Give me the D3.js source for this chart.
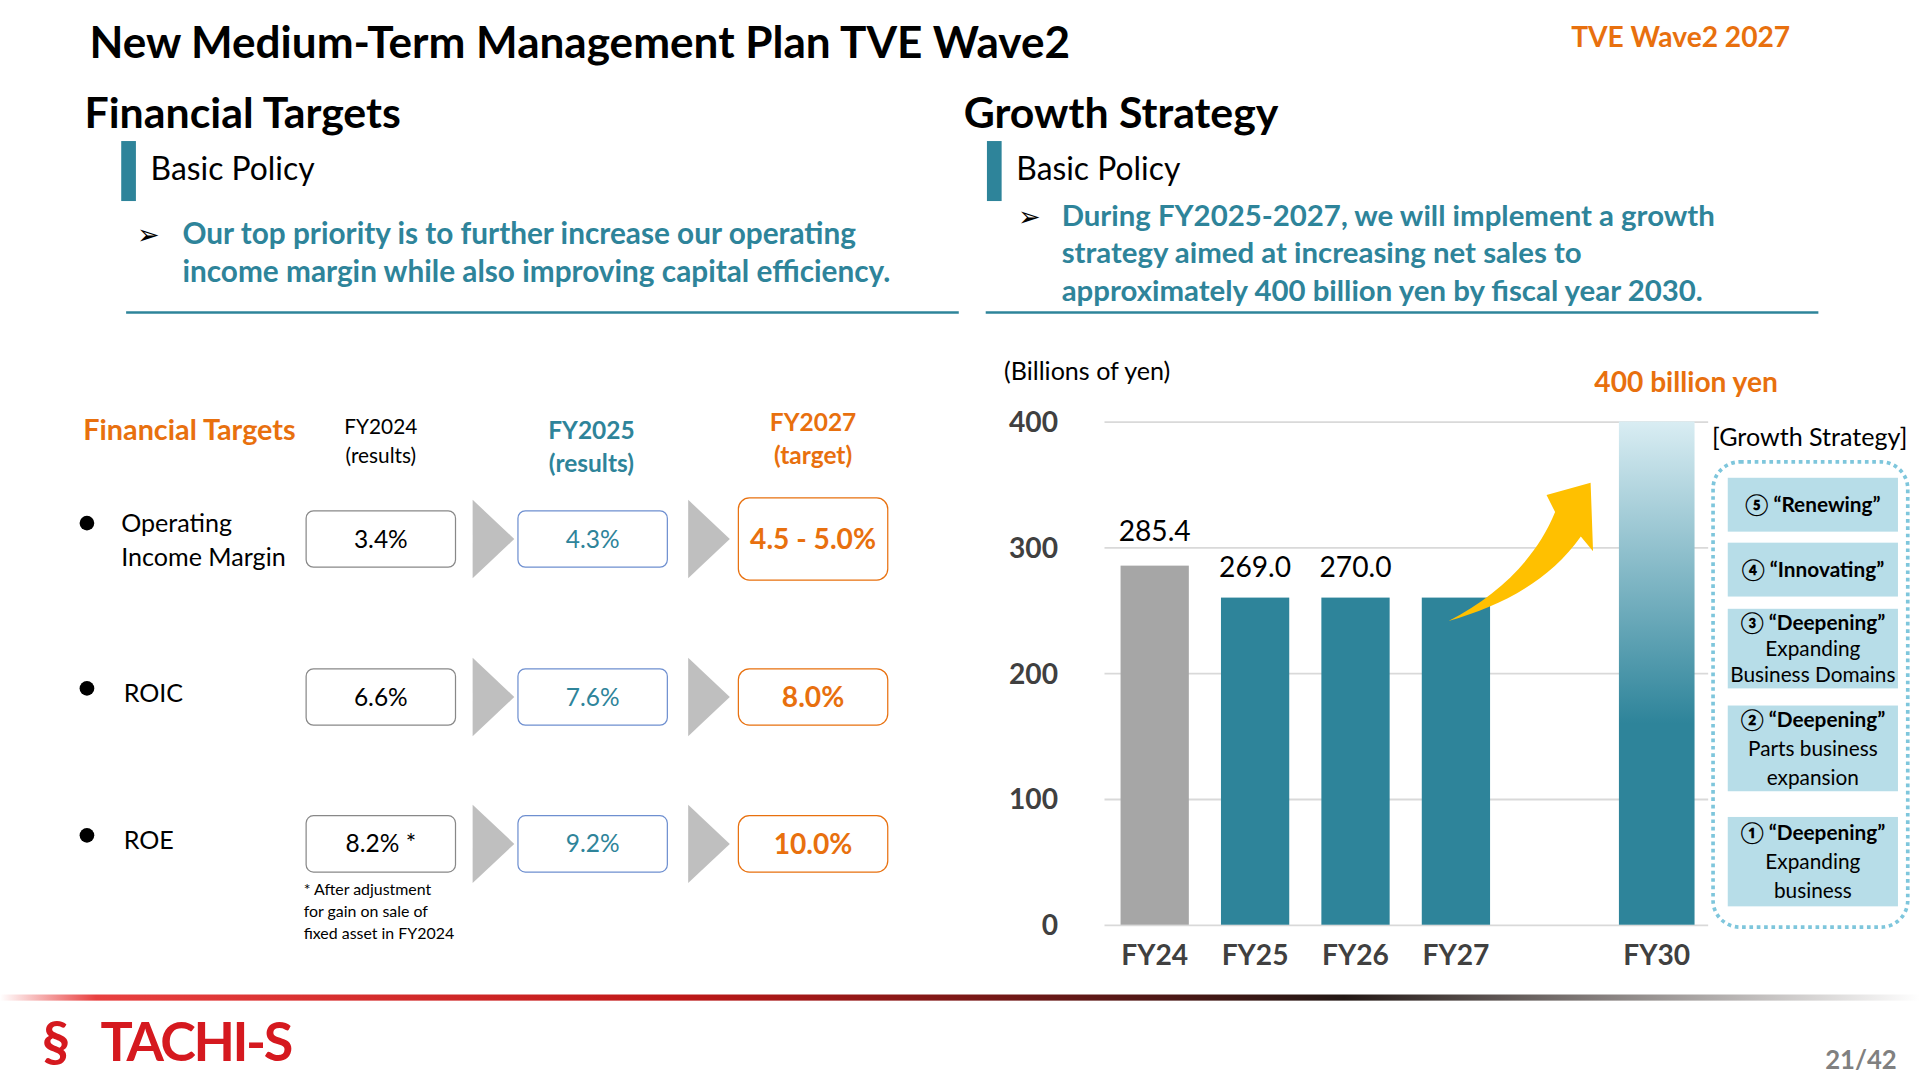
<!DOCTYPE html>
<html><head><meta charset="utf-8">
<script src="https://cdn.jsdelivr.net/npm/d3@7"></script>
<style>body{margin:0;background:#fff}svg{display:block}</style>
</head><body>
<script>
const categories = ["FY24","FY25","FY26","FY27","gap","FY30"];
const barValues = [285.4,260,260,260,null,400];
const valueLabels = ["285.4","269.0","270.0","",null,""];
const yTicks = [0,100,200,300,400];
const strategyItems = [
  ["⑤ “Renewing”"],["④ “Innovating”"],
  ["③ “Deepening”","Expanding","Business Domains"],
  ["② “Deepening”","Parts business","expansion"],
  ["① “Deepening”","Expanding","business"]];
const targetRows = ["Operating\nIncome Margin","ROIC","ROE"];
const fy2024 = ["3.4%","6.6%","8.2% *"];
const fy2025 = ["4.3%","7.6%","9.2%"];
const fy2027 = ["4.5 - 5.0%","8.0%","10.0%"];

const F="Lato, 'Open Sans', sans-serif";
const TEAL="#2e849a", ORANGE="#e8700e";
const svg=d3.select("body").append("svg").attr("width",1920).attr("height",1078)
  .attr("viewBox","0 0 1568 880").style("font-family",F);
const defs=svg.append("defs");
function T(x,y,t,o={}){const e=svg.append("text").attr("x",x).attr("y",y).text(t)
  .attr("font-size",o.s||20).attr("font-weight",o.w||"normal").attr("fill",o.c||"#000")
  .attr("text-anchor",o.a||"start");return e;}

T(73,47,"New Medium-Term Management Plan TVE Wave2",{s:36,w:"bold"});
T(1462,38,"TVE Wave2 2027",{s:23,w:"bold",c:ORANGE,a:"end"});
T(69,104,"Financial Targets",{s:35,w:"bold"});
T(787,104,"Growth Strategy",{s:35,w:"bold"});
[[99],[806]].forEach(([x])=>{svg.append("rect").attr("x",x).attr("y",115).attr("width",12).attr("height",49).attr("fill",TEAL);
  T(x+24,147,"Basic Policy",{s:26});});
T(112,199,"➢",{s:22});T(149,199,"Our top priority is to further increase our operating",{s:24.3,w:"bold",c:TEAL});
T(149,230,"income margin while also improving capital efficiency.",{s:24.3,w:"bold",c:TEAL});
T(831,184,"➢",{s:22});
["During FY2025-2027, we will implement a growth","strategy aimed at increasing net sales to","approximately 400 billion yen by fiscal year 2030."]
 .forEach((l,i)=>T(867,184+31*i,l,{s:24,w:"bold",c:TEAL}));
svg.append("line").attr("x1",103).attr("x2",783).attr("y1",255).attr("y2",255).attr("stroke",TEAL).attr("stroke-width",2);
svg.append("line").attr("x1",805).attr("x2",1485).attr("y1",255).attr("y2",255).attr("stroke",TEAL).attr("stroke-width",2);

// Left table
T(68,359,"Financial Targets",{s:23.5,w:"bold",c:ORANGE});
T(311,354,"FY2024",{s:17,a:"middle"});T(311,378,"(results)",{s:17,a:"middle"});
T(483,358,"FY2025",{s:20,w:"bold",c:TEAL,a:"middle"});T(483,385,"(results)",{s:20,w:"bold",c:TEAL,a:"middle"});
T(664,352,"FY2027",{s:20,w:"bold",c:ORANGE,a:"middle"});T(664,379,"(target)",{s:20,w:"bold",c:ORANGE,a:"middle"});
const rowY=[440,569,689];
targetRows.forEach((r,i)=>{
  svg.append("circle").attr("cx",71).attr("cy",rowY[i]-13+(i?6:0)).attr("r",6);
  const ls=r.split("\n");ls.forEach((l,j)=>T(ls.length>1?99:101,rowY[i]-6+28*j+(ls.length>1?0:10),l,{s:20.5}));
  const h=46;
  svg.append("rect").attr("x",250).attr("y",rowY[i]-23).attr("width",122).attr("height",h).attr("rx",6).attr("fill","#fff").attr("stroke","#888");
  T(311,rowY[i]+7,fy2024[i],{s:20,a:"middle"});
  svg.append("rect").attr("x",423).attr("y",rowY[i]-23).attr("width",122).attr("height",h).attr("rx",6).attr("fill","#fff").attr("stroke","#6e8fd0");
  T(484,rowY[i]+7,fy2025[i],{s:20,a:"middle",c:TEAL});
  const hh=i===0?67:h;
  svg.append("rect").attr("x",603).attr("y",rowY[i]-hh/2).attr("width",122).attr("height",hh).attr("rx",9).attr("fill","#fff").attr("stroke",ORANGE);
  T(664,rowY[i]+8,fy2027[i],{s:23,w:"bold",c:ORANGE,a:"middle"});
  [386,562].forEach(x=>svg.append("path").attr("d",`M${x},${rowY[i]-32}L${x+34},${rowY[i]}L${x},${rowY[i]+32}Z`).attr("fill","#bfbfbf"));
});
["* After adjustment","for gain on sale of","fixed asset in FY2024"].forEach((l,i)=>T(248,731+18*i,l,{s:13}));

// Chart
const x=d3.scaleBand().domain(categories).range([902,1394]).paddingInner(0.32).paddingOuter(0.16);
const y=d3.scaleLinear().domain([0,400]).range([755,344]);
T(820,310,"(Billions of yen)",{s:20.5});
const ax=svg.append("g").attr("transform","translate(902,0)")
  .call(d3.axisLeft(y).tickValues(yTicks).tickSize(-493).tickPadding(38));
ax.select(".domain").remove();
ax.selectAll("line").attr("stroke","#d9d9d9").attr("stroke-width",1.5);
ax.selectAll("text").attr("font-size",23).attr("font-weight","bold").attr("fill","#404040").attr("font-family",F).attr("dy","0.35em");
const gr=defs.append("linearGradient").attr("id","g30").attr("x1",0).attr("x2",0).attr("y1",0).attr("y2",1);
gr.append("stop").attr("offset",0).attr("stop-color","#d9edf3");
gr.append("stop").attr("offset",0.6).attr("stop-color","#2e849a");
gr.append("stop").attr("offset",1).attr("stop-color","#2e849a");
categories.forEach((c,i)=>{ if(barValues[i]==null) return;
  const w=c==="FY30"?x.bandwidth()+6:x.bandwidth();
  const xx=x(c)-(w-x.bandwidth())/2;
  svg.append("rect").attr("x",xx).attr("y",y(barValues[i])).attr("width",w).attr("height",y(0)-y(barValues[i]))
   .attr("fill",i===0?"#a6a6a6":c==="FY30"?"url(#g30)":TEAL);
  T(x(c)+x.bandwidth()/2,788,c,{s:23,w:"bold",c:"#404040",a:"middle"});
  if(valueLabels[i]) T(x(c)+x.bandwidth()/2,(i===0?y(barValues[i])-20:y(barValues[i])-17),valueLabels[i],{s:23,a:"middle"});
});
T(1377,320,"400 billion yen",{s:23,w:"bold",c:ORANGE,a:"middle"});
svg.append("path").attr("d","M1183,507 C1225,485 1255,455 1270,418 L1263,404 L1299,394 L1301,450 L1291,438 C1265,475 1225,495 1183,507Z").attr("fill","#ffc000");

T(1478,364,"[Growth Strategy]",{s:20.5,a:"middle"});
svg.append("rect").attr("x",1399).attr("y",377).attr("width",159).attr("height",380).attr("rx",22).attr("fill","none")
 .attr("stroke","#7ec6dc").attr("stroke-width",3).attr("stroke-dasharray","3,3");
const boxes=[[390,44],[443,44],[497,65],[576,70],[667,73]];
strategyItems.forEach((ls,i)=>{const [by,bh]=boxes[i];
  svg.append("rect").attr("x",1411).attr("y",by).attr("width",139).attr("height",bh).attr("fill","#b7dde8");
  const n=ls.length, lh=n===3?(bh>=70?23.5:21.5):0, mid=by+bh/2;
  ls.forEach((l,j)=>T(1480.5,mid+(j-(n-1)/2)*lh+6,l,{s:17,w:j===0?"bold":"normal",a:"middle"}));
});

// footer
const fg=defs.append("linearGradient").attr("id","fg");
[[0,"#fff"],[0.05,"#e84040"],[0.35,"#c01818"],[0.7,"#231815"],[1,"#fff"]].forEach(([o,c])=>fg.append("stop").attr("offset",o).attr("stop-color",c));
svg.append("rect").attr("x",0).attr("y",812).attr("width",1568).attr("height",5).attr("fill","url(#fg)");
T(34,866,"§",{s:46,w:"bold",c:"#d5191f"});
T(82,866,"TACHI-S",{s:44,w:"bold",c:"#d5191f"}).attr("letter-spacing",-2);
T(1549,873,"21/42",{s:21,w:"bold",c:"#808080",a:"end"});
</script>
</body></html>
